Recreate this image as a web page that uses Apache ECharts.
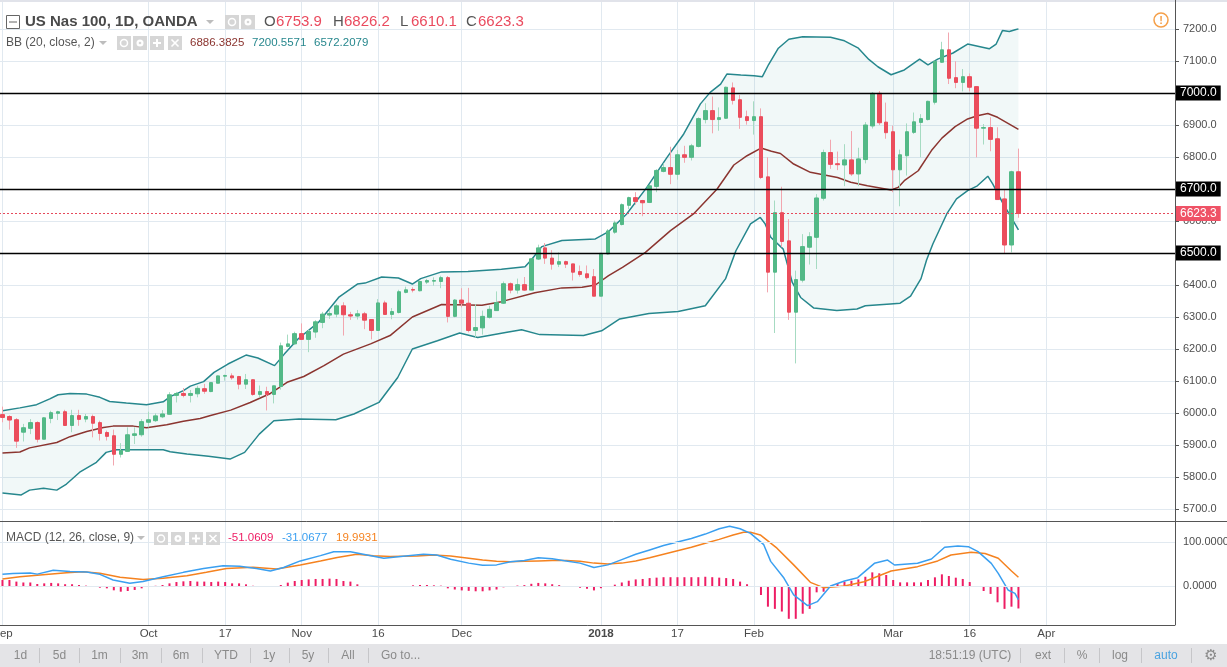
<!DOCTYPE html>
<html><head><meta charset="utf-8">
<script src="https://cdn.jsdelivr.net/npm/echarts/dist/echarts.min.js"></script>
<style>html,body{margin:0;padding:0;background:#fff}#c{width:1227px;height:667px}</style>
</head><body><div id="c"></div>
<script>
// ---------- DATA ----------
const dates = [
'2017-09-01','2017-09-04','2017-09-05','2017-09-06','2017-09-07','2017-09-08','2017-09-11','2017-09-12','2017-09-13','2017-09-14','2017-09-15','2017-09-18','2017-09-19','2017-09-20','2017-09-21','2017-09-22','2017-09-25','2017-09-26','2017-09-27','2017-09-28','2017-09-29',
'2017-10-02','2017-10-03','2017-10-04','2017-10-05','2017-10-06','2017-10-09','2017-10-10','2017-10-11','2017-10-12','2017-10-13','2017-10-16','2017-10-17','2017-10-18','2017-10-19','2017-10-20','2017-10-23','2017-10-24','2017-10-25','2017-10-26','2017-10-27','2017-10-30','2017-10-31',
'2017-11-01','2017-11-02','2017-11-03','2017-11-06','2017-11-07','2017-11-08','2017-11-09','2017-11-10','2017-11-13','2017-11-14','2017-11-15','2017-11-16','2017-11-17','2017-11-20','2017-11-21','2017-11-22','2017-11-23','2017-11-24','2017-11-26','2017-11-27','2017-11-28','2017-11-29','2017-11-30',
'2017-12-01','2017-12-04','2017-12-05','2017-12-06','2017-12-07','2017-12-08','2017-12-11','2017-12-12','2017-12-13','2017-12-14','2017-12-15','2017-12-18','2017-12-19','2017-12-20','2017-12-21','2017-12-22','2017-12-26','2017-12-27','2017-12-28','2017-12-29',
'2018-01-02','2018-01-03','2018-01-04','2018-01-05','2018-01-08','2018-01-09','2018-01-10','2018-01-11','2018-01-12','2018-01-15','2018-01-16','2018-01-17','2018-01-18','2018-01-19','2018-01-22','2018-01-23','2018-01-24','2018-01-25','2018-01-26','2018-01-29','2018-01-30','2018-01-31',
'2018-02-01','2018-02-02','2018-02-05','2018-02-06','2018-02-07','2018-02-08','2018-02-09','2018-02-12','2018-02-13','2018-02-14','2018-02-15','2018-02-16','2018-02-19','2018-02-20','2018-02-21','2018-02-22','2018-02-23','2018-02-26','2018-02-27','2018-02-28',
'2018-03-01','2018-03-02','2018-03-05','2018-03-06','2018-03-07','2018-03-08','2018-03-09','2018-03-12','2018-03-13','2018-03-14','2018-03-15','2018-03-16','2018-03-19','2018-03-20','2018-03-21','2018-03-22','2018-03-23','2018-03-26','2018-03-27'];
const futureDates = ['2018-03-28','2018-03-29','2018-03-30','2018-04-02','2018-04-03','2018-04-04','2018-04-05','2018-04-06','2018-04-09','2018-04-10','2018-04-11','2018-04-12','2018-04-13','2018-04-16','2018-04-17','2018-04-18','2018-04-19','2018-04-20','2018-04-23','2018-04-24','2018-04-25','2018-04-26'];

const tickDates = ['2017-09-01','2017-10-02','2017-10-17','2017-11-01','2017-11-16','2017-12-01','2018-01-02','2018-01-17','2018-02-01','2018-03-01','2018-03-16','2018-04-02'];
const tickLabels = ['Sep','Oct','17','Nov','16','Dec','2018','17','Feb','Mar','16','Apr'];

const priceTicks = [5700, 7200];
const levelLines = [7000, 6700, 6500];
const lastPrice = 6623.3;

const openVals = [5995,5989,5979,5940,5952,5970,5918,5983,5999,6004,5961,5992,5981,5989,5970,5939,5929,5871,5880,5930,
5932,5971,5976,5988,5996,6055,6061,6055,6060,6076,6067,6093,6115,6116,6114,6090,6104,6058,6067,6058,
6083,6208,6216,6248,6230,6253,6283,6306,6309,6335,6307,6303,6310,6292,6258,6344,6308,6314,6377,6386,
6382,6409,6412,6411,6423,6302,6353,6343,6258,6266,6299,6320,6343,6404,6384,6401,6384,6481,6516,6484,
6465,6473,6466,6442,6435,6426,6365,6497,6565,6589,6649,6673,6664,6658,6708,6755,6767,6746,6807,6799,
6833,6917,6945,6917,6921,7016,6979,6926,6914,6926,6738,6440,6626,6538,6315,6415,6518,6549,6671,6814,
6779,6775,6791,6747,6792,6897,6999,6909,6879,6760,6804,6877,6908,6917,6971,7096,7135,7048,7033,7051,
7020,6890,6892,6857,6669,6525,6753.9];
const closeVals = [5986,5978,5912,5954,5970,5918,5985,6001,6004,5961,5992,5980,5989,5968,5936,5927,5871,5883,5932,5935,
5973,5979,5991,5997,6057,6061,6055,6061,6077,6068,6095,6116,6117,6110,6090,6104,6058,6067,6058,6085,
6210,6216,6248,6230,6255,6285,6309,6311,6335,6307,6303,6310,6290,6258,6344,6308,6317,6379,6385,6384,
6411,6414,6414,6423,6302,6353,6343,6258,6267,6302,6324,6345,6404,6384,6401,6384,6482,6516,6484,6465,
6473,6465,6440,6433,6423,6365,6499,6569,6594,6651,6673,6661,6657,6710,6758,6767,6746,6807,6799,6835,
6920,6945,6917,6923,7018,6977,6924,6914,6926,6736,6440,6626,6536,6315,6417,6520,6551,6672,6814,6777,
6776,6791,6747,6794,6900,6999,6907,6876,6760,6807,6879,6910,6920,6974,7099,7135,7046,7033,7051,7018,
6890,6892,6855,6667,6525,6754,6623.3];
const lowVals = [5971,5948,5891,5911,5934,5908,5918,5968,5978,5960,5940,5960,5971,5924,5914,5914,5836,5861,5880,5903,
5926,5955,5972,5984,5996,6033,6049,6033,6049,6060,6065,6093,6101,6104,6074,6075,6054,6049,6008,6030,
6073,6205,6213,6228,6190,6235,6265,6294,6299,6242,6291,6292,6262,6230,6258,6307,6293,6311,6374,6377,
6380,6403,6398,6390,6283,6299,6330,6252,6236,6245,6295,6319,6341,6374,6373,6382,6384,6478,6466,6448,
6456,6453,6414,6426,6418,6365,6365,6495,6560,6586,6637,6651,6615,6656,6690,6752,6715,6729,6782,6789,
6830,6905,6874,6882,6919,6964,6888,6901,6870,6731,6377,6250,6518,6291,6155,6408,6464,6450,6664,6763,
6759,6709,6741,6709,6780,6889,6900,6857,6690,6646,6742,6872,6799,6914,6964,7094,7028,7015,7005,7005,
6799,6839,6818,6666,6497,6502,6610.1];
const highVals = [6020,5993,5984,5966,5981,5974,5987,6007,6007,6010,6010,6010,5997,5995,5976,5945,5948,5906,5955,5955,
5981,6004,5999,6009,6065,6066,6078,6072,6085,6091,6096,6117,6120,6124,6116,6122,6105,6086,6082,6085,
6220,6245,6254,6280,6260,6290,6316,6322,6341,6346,6316,6322,6316,6292,6356,6351,6328,6385,6395,6393,
6414,6419,6424,6429,6428,6356,6390,6391,6340,6320,6335,6380,6411,6408,6420,6425,6482,6526,6531,6509,
6502,6476,6466,6461,6461,6450,6499,6575,6601,6655,6676,6690,6666,6712,6762,6780,6832,6822,6835,6841,
6924,6968,6989,6955,7020,7033,6994,6945,6974,6952,6799,6664,6707,6606,6445,6559,6565,6684,6823,6854,
6817,6840,6881,6829,6909,7003,7006,6970,6898,6823,6905,6939,6934,6976,7101,7160,7189,7099,7075,7061,
7020,6903,6924,6893,6700,6757,6826.2];

// Bollinger band lines: [bar position, value]
const bbUpper = [[0,6007],[2.5,6016],[4.9,6026],[6.8,6044],[8,6057],[9.7,6061],[12.1,6059],[14,6049],[15.4,6036],[17.8,6031],[20.7,6026],[23.1,6035],[24.1,6051],[26,6070],[27,6084],[28.9,6098],[30.4,6127],[32.4,6153],[35,6181],[36.7,6172],[39.1,6148],[40.5,6184],[42.5,6232],[45.4,6283],[48.3,6361],[51,6403],[52.1,6406],[54.5,6425],[56.9,6422],[58.9,6403],[60.1,6420],[63.1,6441],[66.9,6442],[71.7,6449],[75.1,6457],[76.1,6481],[77.5,6520],[80.4,6539],[85.2,6544],[87.1,6567],[89.7,6622],[92.6,6705],[95.5,6799],[97.9,6872],[100.3,6966],[101.7,7002],[103.2,7028],[104.1,7059],[106.1,7056],[108,7054],[109.2,7051],[110.1,7089],[111.5,7140],[113,7168],[115,7176],[119,7174],[121,7163],[123,7140],[124.5,7105],[125.8,7082],[127.7,7057],[129.6,7072],[131.8,7106],[133,7088],[134.4,7106],[136.6,7125],[138.7,7153],[141.8,7138],[142.8,7153],[143.7,7195],[144.7,7192],[146,7200.6]];
const bbMiddle = [[0,5875],[2.5,5878],[3.9,5891],[7.8,5908],[9.7,5926],[12.1,5942],[14.5,5955],[15.9,5959],[18.8,5959],[20.7,5954],[23.6,5963],[26,5974],[28.4,5983],[29.9,5992],[32.8,6009],[35.6,6033],[38.5,6061],[40.9,6096],[43.3,6114],[46.2,6148],[49,6184],[52.9,6216],[55.7,6242],[58.9,6300],[63.1,6339],[68.9,6337],[71.7,6348],[76.5,6376],[80.4,6391],[83.3,6393],[85.2,6400],[87.1,6429],[89.1,6455],[92.4,6502],[96,6570],[99.3,6622],[102.7,6700],[105.1,6775],[107,6804],[109,6828],[110.5,6818],[111.8,6811],[113.7,6778],[116.1,6752],[120,6736],[121.9,6721],[124.3,6710],[127.7,6697],[128.7,6705],[129.6,6726],[131.6,6757],[133.5,6820],[135,6859],[136.9,6895],[138.7,6919],[140.1,6929],[141.6,6936],[143,6924],[146,6886.4]];
const bbLower = [[0,5750],[2.7,5744],[3.9,5759],[5.9,5765],[7.8,5759],[9.2,5778],[11.1,5815],[13.5,5846],[14.9,5877],[16.4,5885],[18.8,5885],[23.1,5885],[24.1,5879],[26.5,5872],[29.6,5865],[32.7,5856],[34.8,5877],[36.9,5934],[39,5976],[42.6,5981],[47.9,5979],[50.5,5997],[54.1,6033],[56.8,6111],[58.9,6200],[62.5,6226],[65.7,6250],[68.3,6236],[72.5,6252],[74.6,6260],[77.2,6245],[83.5,6242],[86.1,6257],[88.7,6294],[92.9,6311],[97.1,6317],[101,6335],[103.9,6419],[105.4,6507],[107.5,6591],[108.9,6611],[109.6,6591],[110.4,6549],[112.2,6512],[113.5,6408],[114.7,6361],[116.6,6328],[119.9,6320],[122.8,6325],[124,6335],[127.6,6341],[129,6343],[130.5,6365],[132,6420],[132.8,6478],[133.7,6528],[135.7,6622],[137.1,6669],[138.7,6695],[140.1,6710],[141.6,6740],[142.3,6716],[143.7,6658],[146,6572.2]];

// MACD (12, 26, close, 9)
const macdLine = [[0,26.5],[1.5,28.5],[4,29.5],[5,27],[7.3,36],[9.7,33],[12.1,32],[14,26.5],[15.9,13.6],[18.3,6],[20.2,10],[23.1,21],[26,31],[28.9,40],[31.7,46],[34.1,45],[36.5,40],[38.5,34],[40.4,42],[42.8,57],[45.7,69],[47.6,78],[50,78],[52.4,70.5],[54.8,63],[57.2,67],[60.5,72],[62.4,70.5],[64.4,60.6],[67,52],[69,47],[71,48],[73,55],[75,58],[77,64],[79,62],[81,57],[83,52],[85,42],[87,48],[89,60],[91,72],[93,82],[95,92],[97,100],[99,108],[101,118],[103,130],[104.5,136],[106,130],[107.5,119.7],[109.4,93.9],[110.4,56],[112.3,18],[113.7,-20],[115.7,-44.7],[117.1,-35.6],[119,0],[121,11.4],[122.9,18.9],[125.3,51.5],[127.2,59],[128.2,47.7],[131.5,51.5],[133.5,61.4],[135.4,88],[137.3,91],[138.8,89.4],[140.2,78],[142.1,51.5],[143.1,28.8],[144.5,-9],[145.5,-16.7],[146,-31.1]];
const signalLine = [[0,16],[2.5,21],[5.4,25],[9.2,30],[11.6,32.5],[14,29],[16.9,20],[20.2,15],[23.1,17.4],[26.5,23.5],[29.3,31],[32.2,40],[36,42.4],[39.4,38.6],[42.8,47.7],[45.7,57],[48.1,65],[50.9,72],[53.3,69],[55.7,67],[59.6,68],[61.9,70.5],[64.4,68],[67,63],[69,59],[71,56],[73,55],[75,56],[77,57],[79,58],[81,58],[83,56],[85,52],[87,50],[89,52],[91,57],[93,64],[95,72],[97,80],[99,88],[101,97],[103,106],[105,116],[106.5,122],[107.5,122],[108.9,116],[111.3,86],[113.7,48],[116.1,8.3],[118,-3.8],[121,0],[123.8,9.8],[127.7,34],[131.5,44],[134.4,57],[136.3,70.5],[139.2,76.5],[141.2,74],[143.1,63],[145,34],[146,20]];
const histVals = [13.6,13.6,10,8,8,4.5,6,7,6,4,4,2.3,0.8,-0.5,-3.8,-5.3,-9.8,-12.9,-11.4,-9,
-5.3,-1.5,0.5,2.3,6,9,10.6,11.4,10,10,9,10,9,6,6,3.8,0.5,-1.5,-1.5,0,
2.3,7.6,11.4,13.6,15,16,16,16.7,16,11.4,10,3.8,0,-0.8,-0.8,-1.5,-1.5,-0.5,-0.5,1.5,
2.3,2.3,1.5,0.8,-5.3,-8,-10,-11,-12,-12,-10,-8,-3,0,1,2,5,7,6,4,
2,-1,-2,-4,-6,-10,-5,-2,3,8,12,15,16,18,19,20,20,20,20,20,
20,21,20,19,18,16,10,4,-2,-20.5,-47,-52,-58,-74.6,-74.6,-63,-52,-14.4,-13,-1.5,
4.5,9.8,12,15,21,31,28.8,25,13.6,8.3,8.3,8.3,8.3,13.6,19.7,26.5,22.7,18.9,16,9,
-1.5,-11.4,-18,-37,-52,-47,-51.06];

// ---------- CHART ----------
const FONT = '"Liberation Sans", Arial, sans-serif';
const cats = dates.concat(futureDates);
const N = cats.length;
const UP = '#53b987', DOWN = '#eb4d5c', UPW = '#a6dbc2', DOWNW = '#f2a6af';
const TEAL = '#26878d', BROWN = '#8b3530', GRID = '#e1e9f0';
const MAG = '#ee1d64', BLUE = '#3a9ff0', ORANGE = '#f5821f';

const candleData = openVals.map((o, i) => [o, closeVals[i], lowVals[i], highVals[i]]);
const bodyData = openVals.map((o, i) => [o, closeVals[i], Math.min(o, closeVals[i]), Math.max(o, closeVals[i])]);

function T(x, y, text, fill, size, opt) {
  opt = opt || {};
  return {type: 'text', x: x, y: y, z: 100, silent: true,
    style: {text: text, fill: fill, font: (opt.weight || 'normal') + ' ' + size + 'px ' + (opt.family || FONT),
      align: opt.align || 'left', verticalAlign: 'middle'}};
}
function R(x, y, w, h, fill, stroke) {
  return {type: 'rect', z: 100, silent: true, shape: {x: x, y: y, width: w, height: h},
    style: {fill: fill || 'none', stroke: stroke || null, lineWidth: 1}};
}
function L(x1, y1, x2, y2, stroke, w) {
  return {type: 'line', z: 100, silent: true, shape: {x1: x1, y1: y1, x2: x2, y2: y2}, style: {stroke: stroke, lineWidth: w || 1}};
}
function TRI(cx, cy) {
  return {type: 'polygon', z: 100, silent: true, shape: {points: [[cx - 4, cy - 2], [cx + 4, cy - 2], [cx, cy + 2]]}, style: {fill: '#bdbdbd'}};
}
function iconBoxes(xs, y, h) {
  const out = [];
  const glyphs = ['eye', 'gear', '+', 'x'];
  xs.forEach((x, k) => {
    out.push(R(x, y, 14, h, '#d6d6d6'));
    const cx = x + 7, cy = y + h / 2;
    const g = glyphs[k];
    if (g === 'eye') {
      out.push({type: 'circle', z: 101, silent: true, shape: {cx: cx, cy: cy, r: 3.5}, style: {fill: 'none', stroke: '#fff', lineWidth: 1.5}});
    } else if (g === 'gear') {
      out.push({type: 'circle', z: 101, silent: true, shape: {cx: cx, cy: cy, r: 3.5}, style: {fill: '#fff'}});
      out.push({type: 'circle', z: 101, silent: true, shape: {cx: cx, cy: cy, r: 1.3}, style: {fill: '#d6d6d6'}});
    } else if (g === '+') {
      out.push(L(cx - 4, cy, cx + 4, cy, '#fff', 2)); out.push(L(cx, cy - 4, cx, cy + 4, '#fff', 2));
    } else {
      out.push(L(cx - 3.5, cy - 3.5, cx + 3.5, cy + 3.5, '#fff', 1.6)); out.push(L(cx - 3.5, cy + 3.5, cx + 3.5, cy - 3.5, '#fff', 1.6));
    }
  });
  return out;
}

const gfx = [];
gfx.push(R(0, 0, 1227, 2, '#e1e3ea'));
gfx.push(L(0, 521.5, 1227, 521.5, '#555', 1));
gfx.push(L(1175.5, 0, 1175.5, 625, '#555', 1));
// header row 1
gfx.push(R(6.5, 15.5, 13, 13, 'none', '#666'));
gfx.push(L(9, 22, 17, 22, '#666', 1));
gfx.push(T(25, 22, 'US Nas 100, 1D, OANDA', '#4a4a4a', 15, {weight: 'bold'}));
gfx.push(TRI(210, 22));
gfx.push(...iconBoxes([225, 241], 15, 14));
[['O', 264, '6753.9', 276], ['H', 333, '6826.2', 344], ['L', 400, '6610.1', 411], ['C', 466, '6623.3', 478]].forEach(p => {
  gfx.push(T(p[1], 22, p[0], '#555', 15));
  gfx.push(T(p[3], 22, p[2], '#ea4a5e', 15));
});
// header row 2
gfx.push(T(6, 43, 'BB (20, close, 2)', '#555', 12));
gfx.push(TRI(103, 43));
gfx.push(...iconBoxes([117, 133, 150, 168], 36, 14));
gfx.push(T(190, 43, '6886.3825', BROWN, 11.5));
gfx.push(T(252, 43, '7200.5571', TEAL, 11.5));
gfx.push(T(314, 43, '6572.2079', TEAL, 11.5));
// MACD header
gfx.push(T(6, 538, 'MACD (12, 26, close, 9)', '#555', 12));
gfx.push(TRI(141, 538));
gfx.push(...iconBoxes([154, 171, 189, 206], 532, 13));
gfx.push(T(228, 538, '-51.0609', MAG, 11.5));
gfx.push(T(282, 538, '-31.0677', BLUE, 11.5));
gfx.push(T(336, 538, '19.9931', ORANGE, 11.5));
// warning icon
gfx.push({type: 'circle', z: 100, silent: true, shape: {cx: 1161, cy: 20, r: 7}, style: {fill: 'none', stroke: '#f5a04a', lineWidth: 1.5}});
gfx.push(T(1161, 20.5, '!', '#f5a04a', 11, {weight: 'bold', align: 'center'}));
// bottom toolbar
gfx.push(R(0, 644, 1227, 23, '#e4e4e7'));
[['1d', 20.5], ['5d', 59.5], ['1m', 99.5], ['3m', 140], ['6m', 181], ['YTD', 226], ['1y', 269], ['5y', 308], ['All', 348]].forEach(p => {
  gfx.push(T(p[1], 656, p[0], '#8a8a8a', 12, {align: 'center'}));
});
gfx.push(T(381, 656, 'Go to...', '#8a8a8a', 12));
[39.5, 79.5, 120.5, 161.5, 202.5, 250.5, 289.5, 328.5, 368.5, 1020.5, 1064.5, 1099.5, 1141.5, 1191.5].forEach(x => {
  gfx.push(L(x, 648, x, 663, '#c6c6c9', 1));
});
gfx.push(T(970, 656, '18:51:19 (UTC)', '#8a8a8a', 12, {align: 'center'}));
gfx.push(T(1043, 656, 'ext', '#8a8a8a', 12, {align: 'center'}));
gfx.push(T(1082, 656, '%', '#8a8a8a', 12, {align: 'center'}));
gfx.push(T(1120, 656, 'log', '#8a8a8a', 12, {align: 'center'}));
gfx.push(T(1166, 656, 'auto', '#4aa3e0', 12, {align: 'center'}));
gfx.push(T(1211, 656, '\u2699', '#8a8a8a', 15, {align: 'center', family: '"DejaVu Sans", sans-serif'}));

const chart = echarts.init(document.getElementById('c'), null, {renderer: 'canvas'});

const levelData = levelLines.map(v => ({
  yAxis: v,
  lineStyle: {color: '#000', width: 1.3, type: 'solid'},
  label: {backgroundColor: '#000', color: '#fff'}
}));
levelData.push({
  yAxis: lastPrice,
  lineStyle: {color: '#e6495b', width: 1, type: [2, 2]},
  label: {backgroundColor: '#ef5266', color: '#fff'}
});

const tickFilter = (i, v) => tickDates.indexOf(v) >= 0;

const option = {
  animation: false,
  backgroundColor: '#ffffff',
  textStyle: {fontFamily: FONT},
  grid: [
    {left: -1, right: 52, top: 29, height: 480, containLabel: false, outerBoundsMode: 'none'},
    {left: -1, right: 52, top: 498, height: 132, containLabel: false, outerBoundsMode: 'none'},
    {left: -1, right: 52, top: 0, height: 625, containLabel: false, outerBoundsMode: 'none'}
  ],
  xAxis: [
    {type: 'category', gridIndex: 0, data: cats, boundaryGap: true, show: false},
    {type: 'value', gridIndex: 0, min: -0.5, max: N - 0.5, show: false},
    {type: 'category', gridIndex: 1, data: cats, boundaryGap: true, show: false},
    {type: 'value', gridIndex: 1, min: -0.5, max: N - 0.5, show: false},
    {type: 'category', gridIndex: 2, data: cats, boundaryGap: true, position: 'bottom', z: 0,
      axisLine: {show: true, onZero: false, lineStyle: {color: '#555', width: 1}},
      axisTick: {show: true, inside: true, length: 625, alignWithLabel: true, interval: tickFilter,
        lineStyle: {color: GRID, width: 1}},
      splitLine: {show: false},
      axisLabel: {
        interval: tickFilter,
        formatter: v => { const k = tickDates.indexOf(v); if (k < 0) return ''; return tickLabels[k] === '2018' ? '{b|2018}' : tickLabels[k]; },
        color: '#4a4a4a', fontSize: 11.5, fontFamily: FONT, margin: 3,
        rich: {b: {fontWeight: 'bold', fontSize: 11.5, color: '#4a4a4a', fontFamily: FONT}}
      }}
  ],
  yAxis: [
    {type: 'value', gridIndex: 0, position: 'right', min: priceTicks[0], max: priceTicks[1], interval: 100,
      axisLine: {show: true, onZero: false, lineStyle: {color: '#555'}},
      axisTick: {show: true, length: 4, inside: false, lineStyle: {color: '#555'}},
      axisLabel: {formatter: v => v.toFixed(1), color: '#4d4d4d', fontSize: 11, fontFamily: FONT, margin: 8},
      splitLine: {show: true, lineStyle: {color: GRID, width: 1}}},
    {type: 'value', gridIndex: 1, position: 'right', min: -100, max: 200, interval: 100,
      axisLine: {show: false, onZero: false}, axisTick: {show: false}, splitLine: {show: false},
      axisLabel: {formatter: v => (v === 0 || v === 100) ? v.toFixed(4) : '', color: '#4d4d4d', fontSize: 11, fontFamily: FONT, margin: 8}},
    {type: 'value', gridIndex: 2, show: false, min: 0, max: 1, axisLine: {onZero: false}}
  ],
  graphic: {elements: gfx},
  series: [
    {name: 'bgHolder', type: 'line', xAxisIndex: 4, yAxisIndex: 2, data: [[cats[0], -5]], showSymbol: false, silent: true, z: 0},
    {name: 'bbFill', type: 'custom', xAxisIndex: 1, yAxisIndex: 0, data: [[0, 6000]], silent: true, z: 1,
      renderItem: (params, api) => {
        const pts = bbUpper.map(p => api.coord(p)).concat(bbLower.slice().reverse().map(p => api.coord(p)));
        return {type: 'polygon', shape: {points: pts}, style: {fill: 'rgba(38,150,150,0.065)'}};
      }},
    {name: 'BB upper', type: 'line', xAxisIndex: 1, yAxisIndex: 0, data: bbUpper, showSymbol: false, silent: true, z: 2,
      lineStyle: {color: TEAL, width: 1.5}},
    {name: 'BB lower', type: 'line', xAxisIndex: 1, yAxisIndex: 0, data: bbLower, showSymbol: false, silent: true, z: 2,
      lineStyle: {color: TEAL, width: 1.5}},
    {name: 'BB basis', type: 'line', xAxisIndex: 1, yAxisIndex: 0, data: bbMiddle, showSymbol: false, silent: true, z: 2,
      lineStyle: {color: BROWN, width: 1.5}},
    {name: 'wicks', type: 'candlestick', xAxisIndex: 0, yAxisIndex: 0, data: candleData, barWidth: 1, z: 3,
      itemStyle: {color: UPW, color0: DOWNW, borderColor: UPW, borderColor0: DOWNW, borderWidth: 1}},
    {name: 'bodies', type: 'candlestick', xAxisIndex: 0, yAxisIndex: 0, data: bodyData, barWidth: 4, z: 4,
      itemStyle: {color: UP, color0: DOWN, borderColor: UP, borderColor0: DOWN, borderWidth: 1},
      markLine: {silent: true, symbol: ['none', 'none'], z: 5,
        label: {show: true, position: 'end', distance: 1, formatter: p => Number(p.value).toFixed(1),
          fontSize: 12, fontFamily: FONT, padding: [2, 4, 1, 4]},
        data: levelData}},
    {name: 'macdGrid', type: 'line', xAxisIndex: 3, yAxisIndex: 1, data: [[-5, 0]], showSymbol: false, silent: true, z: 0,
      markLine: {silent: true, symbol: ['none', 'none'], label: {show: false},
        lineStyle: {color: GRID, type: 'solid', width: 1}, data: [{yAxis: 0}, {yAxis: 100}]}},
    {name: 'Histogram', type: 'bar', xAxisIndex: 2, yAxisIndex: 1, data: histVals, barWidth: 2, z: 2,
      itemStyle: {color: MAG}},
    {name: 'Signal', type: 'line', xAxisIndex: 3, yAxisIndex: 1, data: signalLine, showSymbol: false, z: 3,
      lineStyle: {color: ORANGE, width: 1.5}},
    {name: 'MACD', type: 'line', xAxisIndex: 3, yAxisIndex: 1, data: macdLine, showSymbol: false, z: 3,
      lineStyle: {color: BLUE, width: 1.5}}
  ]
};
chart.setOption(option);
</script></body></html>
